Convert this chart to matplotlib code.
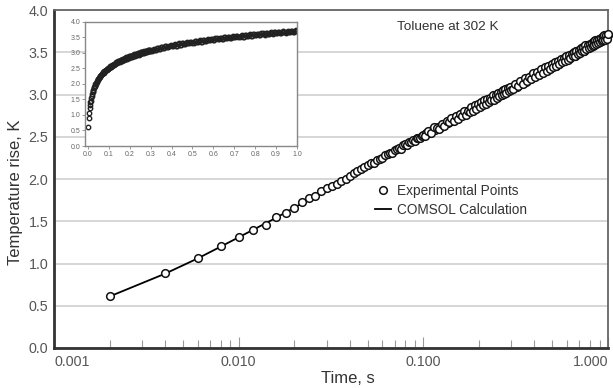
import matplotlib
matplotlib.use("Agg")
import matplotlib.pyplot as plt
from matplotlib.ticker import LogLocator, NullFormatter

plt.rcParams['font.family'] = ['Liberation Sans', 'DejaVu Sans']

# ── Experimental points (time in s, temperature rise in K) ──
exp_time = [
    0.002, 0.004, 0.006, 0.008, 0.010, 0.012, 0.014, 0.016, 0.018, 0.020,
    0.022, 0.024, 0.026, 0.028, 0.030, 0.032, 0.034, 0.036, 0.038, 0.040,
    0.042, 0.044, 0.046, 0.048, 0.050, 0.052, 0.054, 0.056, 0.058, 0.060,
    0.062, 0.064, 0.066, 0.068, 0.070, 0.072, 0.074, 0.076, 0.078, 0.080,
    0.082, 0.084, 0.086, 0.088, 0.090, 0.092, 0.094, 0.096, 0.098, 0.100,
    0.104, 0.108, 0.112, 0.116, 0.120, 0.124, 0.128, 0.132, 0.136, 0.140,
    0.144, 0.148, 0.152, 0.156, 0.160, 0.164, 0.168, 0.172, 0.176, 0.180,
    0.184, 0.188, 0.192, 0.196, 0.200, 0.204, 0.208, 0.212, 0.216, 0.220,
    0.224, 0.228, 0.232, 0.236, 0.240, 0.244, 0.248, 0.252, 0.256, 0.260,
    0.264, 0.268, 0.272, 0.276, 0.280, 0.284, 0.288, 0.292, 0.296, 0.300,
    0.31, 0.32, 0.33, 0.34, 0.35, 0.36, 0.37, 0.38, 0.39, 0.40,
    0.41, 0.42, 0.43, 0.44, 0.45, 0.46, 0.47, 0.48, 0.49, 0.50,
    0.51, 0.52, 0.53, 0.54, 0.55, 0.56, 0.57, 0.58, 0.59, 0.60,
    0.61, 0.62, 0.63, 0.64, 0.65, 0.66, 0.67, 0.68, 0.69, 0.70,
    0.71, 0.72, 0.73, 0.74, 0.75, 0.76, 0.77, 0.78, 0.79, 0.80,
    0.81, 0.82, 0.83, 0.84, 0.85, 0.86, 0.87, 0.88, 0.89, 0.90,
    0.91, 0.92, 0.93, 0.94, 0.95, 0.96, 0.97, 0.98, 0.99, 1.00,
]
exp_temp = [
    0.61, 0.89, 1.06, 1.21, 1.31, 1.40, 1.46, 1.55, 1.60, 1.66,
    1.73, 1.77, 1.80, 1.86, 1.89, 1.92, 1.94, 1.98, 2.00, 2.04,
    2.07, 2.10, 2.12, 2.14, 2.16, 2.19, 2.19, 2.23, 2.24, 2.25,
    2.28, 2.29, 2.31, 2.31, 2.34, 2.35, 2.37, 2.36, 2.40, 2.41,
    2.40, 2.44, 2.44, 2.46, 2.45, 2.48, 2.49, 2.48, 2.51, 2.52,
    2.54, 2.55, 2.58, 2.58, 2.62, 2.61, 2.65, 2.66, 2.66, 2.70,
    2.69, 2.73, 2.72, 2.75, 2.77, 2.76, 2.79, 2.78, 2.82, 2.80,
    2.84, 2.83, 2.86, 2.85, 2.88, 2.87, 2.90, 2.91, 2.90, 2.93,
    2.92, 2.95, 2.94, 2.97, 2.95, 2.98, 2.97, 3.01, 2.99, 3.02,
    3.00, 3.03, 3.02, 3.05, 3.03, 3.06, 3.05, 3.08, 3.06, 3.09,
    3.10, 3.09, 3.14, 3.12, 3.17, 3.15, 3.20, 3.18, 3.23, 3.21,
    3.26, 3.23, 3.28, 3.25, 3.30, 3.28, 3.32, 3.30, 3.35, 3.32,
    3.37, 3.34, 3.39, 3.36, 3.40, 3.38, 3.42, 3.40, 3.44, 3.42,
    3.46, 3.43, 3.47, 3.45, 3.49, 3.46, 3.51, 3.48, 3.52, 3.50,
    3.53, 3.51, 3.55, 3.52, 3.56, 3.54, 3.58, 3.55, 3.59, 3.57,
    3.60, 3.58, 3.62, 3.59, 3.63, 3.61, 3.64, 3.62, 3.65, 3.63,
    3.66, 3.64, 3.67, 3.65, 3.68, 3.66, 3.69, 3.67, 3.70, 3.70,
]

# the in-between samples of the dense part (t > 0.1 s)
exp_time_mid = [
    0.102, 0.106, 0.110, 0.114, 0.118, 0.122, 0.126, 0.130, 0.134, 0.138,
    0.142, 0.146, 0.150, 0.154, 0.158, 0.162, 0.166, 0.170, 0.174, 0.178,
    0.182, 0.186, 0.190, 0.194, 0.198, 0.202, 0.206, 0.210, 0.214, 0.218,
    0.222, 0.226, 0.230, 0.234, 0.238, 0.242, 0.246, 0.250, 0.254, 0.258,
    0.262, 0.266, 0.270, 0.274, 0.278, 0.282, 0.286, 0.290, 0.294, 0.298,
    0.305, 0.315, 0.325, 0.335, 0.345, 0.355, 0.365, 0.375, 0.385, 0.395,
    0.405, 0.415, 0.425, 0.435, 0.445, 0.455, 0.465, 0.475, 0.485, 0.495,
    0.505, 0.515, 0.525, 0.535, 0.545, 0.555, 0.565, 0.575, 0.585, 0.595,
    0.605, 0.615, 0.625, 0.635, 0.645, 0.655, 0.665, 0.675, 0.685, 0.695,
    0.705, 0.715, 0.725, 0.735, 0.745, 0.755, 0.765, 0.775, 0.785, 0.795,
    0.805, 0.815, 0.825, 0.835, 0.845, 0.855, 0.865, 0.875, 0.885, 0.895,
    0.905, 0.915, 0.925, 0.935, 0.945, 0.955, 0.965, 0.975, 0.985, 0.995,
]
exp_temp_mid = [
    2.51, 2.57, 2.55, 2.61, 2.60, 2.59, 2.65, 2.63, 2.69, 2.67,
    2.72, 2.69, 2.74, 2.71, 2.77, 2.74, 2.80, 2.76, 2.81, 2.79,
    2.85, 2.81, 2.87, 2.83, 2.89, 2.85, 2.91, 2.87, 2.93, 2.89,
    2.95, 2.91, 2.96, 2.93, 2.99, 2.94, 3.00, 2.96, 3.02, 2.98,
    3.03, 2.99, 3.05, 3.01, 3.06, 3.02, 3.08, 3.04, 3.09, 3.05,
    3.06, 3.13, 3.10, 3.16, 3.13, 3.19, 3.16, 3.21, 3.18, 3.25,
    3.21, 3.27, 3.23, 3.30, 3.26, 3.32, 3.28, 3.34, 3.30, 3.36,
    3.32, 3.38, 3.34, 3.40, 3.36, 3.42, 3.38, 3.43, 3.40, 3.45,
    3.41, 3.47, 3.43, 3.48, 3.45, 3.50, 3.46, 3.52, 3.48, 3.53,
    3.49, 3.55, 3.51, 3.56, 3.52, 3.58, 3.54, 3.59, 3.55, 3.60,
    3.56, 3.61, 3.57, 3.63, 3.58, 3.64, 3.60, 3.65, 3.61, 3.66,
    3.62, 3.67, 3.63, 3.69, 3.64, 3.70, 3.65, 3.71, 3.66, 3.72,
]

# ── COMSOL calculation ──
model_time = [0.002, 0.004, 0.006, 0.008, 0.010, 0.015, 0.020, 0.030, 0.040, 0.050,
              0.070, 0.100, 0.150, 0.200, 0.300, 0.400, 0.500, 0.700, 1.000]
model_temp = [0.61, 0.88, 1.06, 1.20, 1.31, 1.51, 1.66, 1.88, 2.03, 2.16,
              2.33, 2.52, 2.73, 2.87, 3.08, 3.23, 3.34, 3.51, 3.70]

# ── Axis ticks / labels ──
x_ticks = [0.001, 0.01, 0.1, 1.0]
x_tick_labels = ["0.001", "0.010", "0.100", "1.000"]
y_ticks = [0.0, 0.5, 1.0, 1.5, 2.0, 2.5, 3.0, 3.5, 4.0]
inset_x_ticks = [0.0, 0.1, 0.2, 0.3, 0.4, 0.5, 0.6, 0.7, 0.8, 0.9, 1.0]

all_time = exp_time + exp_time_mid
all_temp = exp_temp + exp_temp_mid

fig = plt.figure(figsize=(6.13, 3.88), dpi=100)
ax = fig.add_axes([0.0881, 0.1031, 0.9037, 0.8711])

# ── Main plot ──
line_model, = ax.plot(model_time, model_temp, color='black', lw=1.3, zorder=2)
pts_exp, = ax.plot(all_time, all_temp, linestyle='none', marker='o', ms=5.5,
                   mfc='white', mec='#111111', mew=1.1, zorder=3, clip_on=False)

ax.set_xscale('log')
ax.set_xlim(0.001, 1.0)
ax.set_ylim(0, 4)

ax.set_yticks(y_ticks)
ax.set_yticklabels([f"{v:.1f}" for v in y_ticks])
ax.yaxis.grid(True, color='#d0d0d0', lw=1.2)
ax.set_axisbelow(True)

ax.set_xticks(x_ticks)
ax.set_xticklabels(x_tick_labels)
ax.xaxis.set_minor_locator(LogLocator(base=10, subs=range(2, 10)))
ax.xaxis.set_minor_formatter(NullFormatter())
ax.tick_params(axis='x', which='major', direction='in', length=8, width=0.8,
               color='#999999', pad=5, labelsize=10.3, labelcolor='#555555')
ax.tick_params(axis='x', which='minor', direction='in', length=6, width=0.8,
               color='#999999')
ax.tick_params(axis='y', length=0, pad=4, labelsize=10.3, labelcolor='#555555')

labels = ax.get_xticklabels()
labels[0].set_ha('left')
labels[-1].set_ha('right')

for side in ['left', 'bottom']:
    ax.spines[side].set_linewidth(2)
    ax.spines[side].set_color('#333333')
for side in ['top', 'right']:
    ax.spines[side].set_linewidth(1.3)
    ax.spines[side].set_color('#666666')

ax.set_xlabel('Time, s', fontsize=12, color='#333333', va='center')
ax.xaxis.set_label_coords(0.531, -0.089)
ax.set_ylabel('Temperature rise, K', fontsize=12, color='#333333', va='center')
ax.yaxis.set_label_coords(-0.070, 0.462)

fig.text(448 / 613, 1 - 26.5 / 388, 'Toluene at 302 K', ha='center', va='center',
         fontsize=9.7, color='#333333')

leg = ax.legend([pts_exp, line_model], ['Experimental Points', 'COMSOL Calculation'],
                loc='upper left', bbox_to_anchor=(375 / 613, 1 - 184 / 388),
                bbox_transform=fig.transFigure, frameon=False, fontsize=9.8,
                handlelength=1.15, handletextpad=0.45, labelspacing=0.35,
                borderpad=0, borderaxespad=0)
for t in leg.get_texts():
    t.set_color('#333333')

# ── Inset: same data on linear time axis ──
axin = fig.add_axes([0.1387, 0.6237, 0.3458, 0.3206])
axin.set_facecolor('white')
axin.plot(all_time, all_temp, linestyle='none', marker='o', ms=3.2,
          mfc='none', mec='#222222', mew=1.0)
axin.set_xlim(-0.014, 1.0)
axin.set_ylim(0, 4)
axin.set_xticks(inset_x_ticks)
axin.set_xticklabels([f"{v:.1f}" for v in inset_x_ticks])
axin.set_yticks(y_ticks)
axin.set_yticklabels([f"{v:.1f}" for v in y_ticks])
axin.tick_params(length=2, width=0.6, pad=1.5, color='#888888',
                 labelsize=5, labelcolor='#666666')
for side in axin.spines:
    axin.spines[side].set_color('#888888')
    axin.spines[side].set_linewidth(1.0)

fig.savefig('out.png', dpi=100)
